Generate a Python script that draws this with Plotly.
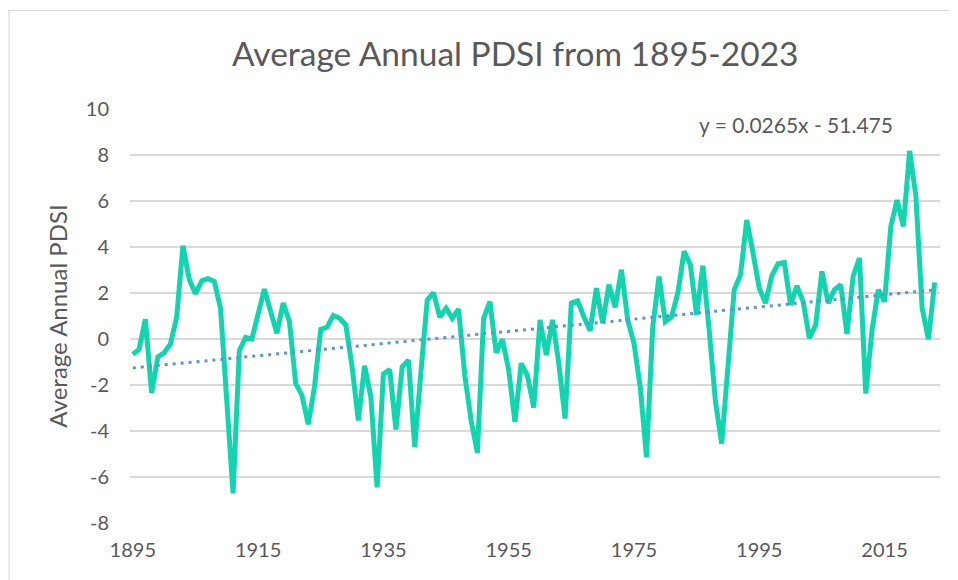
import plotly.graph_objects as go

years = list(range(1895, 2024))
pdsi = [
    -0.67, -0.45, 0.86, -2.34, -0.77, -0.60, -0.22, 0.95, 4.06, 2.60,   # 1895-1904
    1.97, 2.53, 2.62, 2.50, 1.34, -3.00, -6.71, -0.52, 0.07, 0.00,      # 1905-1914
    1.19, 2.17, 1.19, 0.25, 1.56, 0.76, -1.93, -2.45, -3.71, -2.08,     # 1915-1924
    0.42, 0.51, 1.02, 0.90, 0.61, -1.20, -3.54, -1.16, -2.52, -6.45,    # 1925-1934
    -1.53, -1.33, -3.94, -1.21, -0.92, -4.70, -1.40, 1.70, 2.02, 0.95,  # 1935-1944
    1.34, 0.90, 1.30, -1.60, -3.54, -4.95, 0.90, 1.63, -0.60, -0.01,    # 1945-1954
    -1.35, -3.61, -1.06, -1.60, -2.98, 0.83, -0.70, 0.83, -1.06, -3.46, # 1955-1964
    1.56, 1.66, 0.97, 0.36, 2.21, 0.69, 2.36, 1.38, 3.01, 0.83,         # 1965-1974
    -0.19, -2.08, -5.14, 0.54, 2.72, 0.76, 0.97, 2.00, 3.81, 3.23,      # 1975-1984
    1.05, 3.19, 0.40, -2.70, -4.55, -0.92, 2.14, 2.79, 5.17, 3.74,      # 1985-1994
    2.21, 1.56, 2.75, 3.27, 3.33, 1.48, 2.31, 1.63, 0.03, 0.61,         # 1995-2004
    2.94, 1.56, 2.14, 2.36, 0.22, 2.75, 3.52, -2.37, 0.39, 2.14,        # 2005-2014
    1.63, 4.90, 6.04, 4.90, 8.18, 6.21, 1.34, -0.01, 2.46,              # 2015-2023
]

trend_slope = 0.0265
trend_intercept = -51.475
trend_label = "y = 0.0265x - 51.475"

x_ticks = [1895, 1915, 1935, 1955, 1975, 1995, 2015]
y_ticks = [-8, -6, -4, -2, 0, 2, 4, 6, 8, 10]

title_text = "Average Annual PDSI from 1895-2023"
y_title = "Average Annual PDSI"

trend_x = [years[0], years[-1]]
trend_y = [trend_slope * x + trend_intercept for x in trend_x]

# page body has an 8px margin; figure is sized/offset to compensate
OFF = 8
W, H = 958 - OFF, 580 - OFF
L, R, T, B = 129.5 - OFF, 18, 109 - OFF, 57
PW, PH = W - L - R, H - T - B


def px_x(x):  # window px -> paper
    return (x - OFF - L) / PW


def px_y(y):
    return (H - (y - OFF) - B) / PH


TXT = "#595959"
FONT = "Lato"

fig = go.Figure()
fig.add_trace(go.Scatter(
    x=years, y=pdsi, mode="lines",
    line=dict(color="#12D4AE", width=5),
    hoverinfo="skip", showlegend=False,
))
fig.add_trace(go.Scatter(
    x=trend_x, y=trend_y, mode="lines",
    line=dict(color="#5B93D6", width=3, dash="3px,5px"),
    hoverinfo="skip", showlegend=False,
))

fig.update_layout(
    width=W, height=H,
    margin=dict(l=L, r=R, t=T, b=B),
    paper_bgcolor="white", plot_bgcolor="white",
    font=dict(family=FONT, color=TXT, size=20),
    xaxis=dict(
        range=[1894.55, 2023.85], tickvals=x_ticks, ticktext=[str(v) for v in x_ticks],
        showgrid=False, zeroline=False, showline=False, ticks="",
        tickfont=dict(size=20, color=TXT), ticklabelstandoff=13,
    ),
    yaxis=dict(
        range=[-8, 10], tickvals=y_ticks, ticktext=[str(v) for v in y_ticks],
        showgrid=True, gridcolor="#D9D9D9", gridwidth=1.5,
        zeroline=False, showline=False, ticks="",
        tickfont=dict(size=20, color=TXT), ticklabelstandoff=20,
        title=dict(text=y_title, font=dict(size=24, color=TXT), standoff=11),
    ),
    shapes=[dict(
        type="rect", xref="paper", yref="paper",
        x0=px_x(8.5), x1=px_x(970), y0=px_y(590), y1=px_y(10.5),
        line=dict(color="#D9D9D9", width=1.2), fillcolor="rgba(0,0,0,0)", layer="below",
    )],
    annotations=[
        dict(text=title_text, xref="paper", yref="paper",
             x=px_x(515), y=px_y(53),
             xanchor="center", yanchor="middle", showarrow=False,
             font=dict(size=33.5, color=TXT, family=FONT)),
        dict(text=trend_label, xref="paper", yref="paper",
             x=px_x(796), y=px_y(124),
             xanchor="center", yanchor="middle", showarrow=False,
             font=dict(size=21, color=TXT, family=FONT)),
    ],
)

fig.write_html("out.html")
